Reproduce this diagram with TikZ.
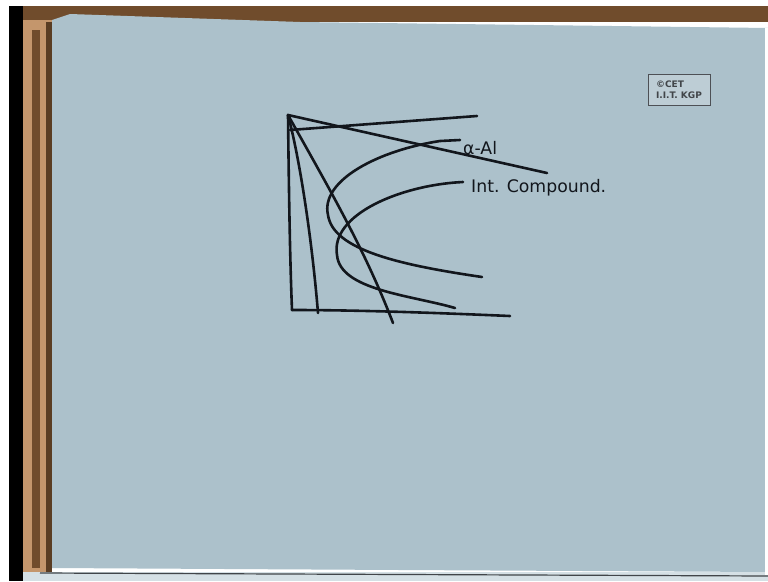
\documentclass[tikz,border=0pt]{standalone}
\usepackage{fontspec}
\setsansfont{DejaVu Sans}
\definecolor{paper}{RGB}{172,193,203}
\definecolor{frame}{RGB}{112,76,44}
\definecolor{framelt}{RGB}{196,150,108}
\definecolor{ink}{RGB}{18,22,28}
\tikzset{
  pen/.style={draw=ink, line width=2.6pt, line cap=round, line join=round},
  hand/.style={text=ink, font=\sffamily\LARGE, inner sep=0pt, anchor=west},
  logo/.style={draw=ink!75, line width=0.9pt, fill=paper!80!white, font=\sffamily\small\bfseries, text=ink!80, align=left, inner sep=3pt, minimum width=62pt, minimum height=31pt}
}
\begin{document}
\begin{tikzpicture}[x=1pt,y=-1pt]
\useasboundingbox (0,0) rectangle (768,581);
% background
\fill[white] (0,0) rectangle (768,581);
\fill[black] (9,6) rectangle (23,581);
\fill[frame] (23,6) rectangle (768,22);
\fill[framelt] (23,20) rectangle (52,574);
\fill[frame] (32,30) rectangle (40,568);
\fill[frame!80!black] (46,22) rectangle (52,574);
\fill[paper!50!white] (23,572) rectangle (768,581);
\draw[ink!80, line width=1.2pt] (40,573) -- (768,576);
\fill[paper] (52,20) -- (70,14) -- (300,22) -- (768,28) -- (768,572) -- (400,570) -- (52,568) -- cycle;
\fill[white] (765,28) rectangle (768,575);
% logo
\node[logo] (logo) at (679,90) {\copyright CET\\I.I.T. KGP};
% key points
\coordinate (apex) at (288,115);
\coordinate (ax0) at (292,310);
\coordinate (ax1) at (510,316);
\coordinate (top1) at (290,130);
\coordinate (top2) at (477,116);
\coordinate (diag) at (547,173);
\coordinate (v1) at (318,313);
\coordinate (v2) at (393,323);
% axes
\draw[pen] (apex) .. controls (289,200) and (290,260) .. (ax0);
\draw[pen] (ax0) .. controls (360,310) and (440,313) .. (ax1);
\draw[pen] (top1) -- (top2);
\draw[pen] (apex) -- (diag);
\draw[pen] (apex) .. controls (300,160) and (312,240) .. (v1);
\draw[pen] (apex) .. controls (330,190) and (365,250) .. (v2);
% alpha-Al curve
\coordinate (a0) at (460,140);
\coordinate (a1) at (482,277);
\draw[pen] (a0) -- (440,141) .. controls (380,150) and (320,180) .. (328,215)
  .. controls (333,250) and (400,265) .. (a1);
% intermetallic compound curve
\coordinate (c0) at (463,182);
\coordinate (c1) at (455,308);
\draw[pen] (c0) .. controls (400,185) and (330,215) .. (337,255)
  .. controls (340,290) and (410,295) .. (c1);
% labels
\node[hand] (lalpha) at (463,148) {α-Al};
\node[hand] (lint) at (471,188) {Int. Compound.};
\end{tikzpicture}
\end{document}
